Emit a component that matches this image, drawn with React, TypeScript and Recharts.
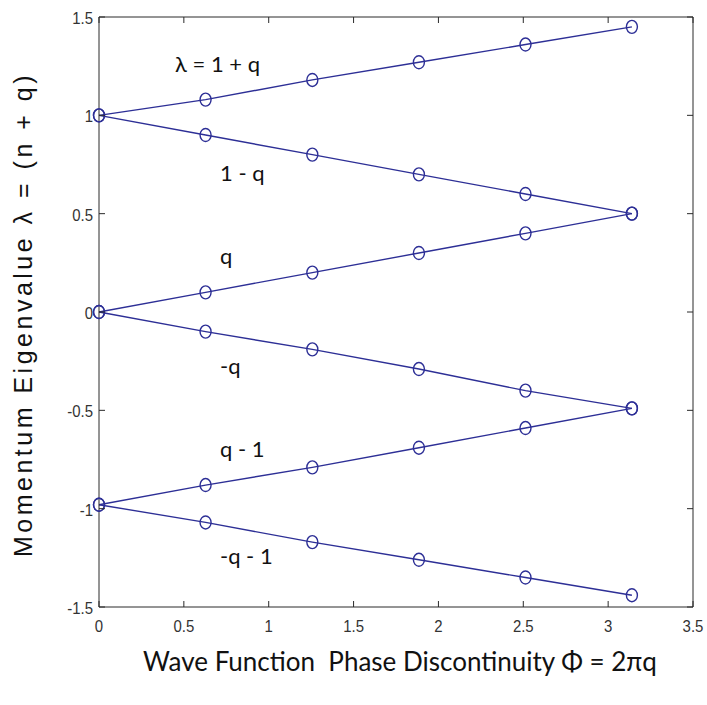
import React from 'react';
import { LineChart, Line, XAxis, YAxis } from 'recharts';

// phase values (x) – 2πq for q = 0 .. 0.5
const phi = [0, 0.628, 1.257, 1.885, 2.513, 3.14];

// momentum eigenvalue branches
const onePlusQ = [1.0, 1.08, 1.18, 1.27, 1.36, 1.45];
const oneMinusQ = [1.0, 0.9, 0.8, 0.7, 0.6, 0.5];
const plusQ = [0.0, 0.1, 0.2, 0.3, 0.4, 0.5];
const minusQ = [0.0, -0.1, -0.19, -0.29, -0.4, -0.49];
const qMinusOne = [-0.98, -0.88, -0.79, -0.69, -0.59, -0.49];
const minusQMinusOne = [-0.98, -1.07, -1.17, -1.26, -1.35, -1.44];

const xTicks = [0, 0.5, 1, 1.5, 2, 2.5, 3, 3.5];
const yTicks = [-1.5, -1, -0.5, 0, 0.5, 1, 1.5];

const series = [
  { key: 'a', values: onePlusQ },
  { key: 'b', values: oneMinusQ },
  { key: 'c', values: plusQ },
  { key: 'd', values: minusQ },
  { key: 'e', values: qMinusOne },
  { key: 'f', values: minusQMinusOne },
];

const data = phi.map((x, i) => {
  const row: any = { x };
  series.forEach((s) => { row[s.key] = s.values[i]; });
  return row;
});

const BLUE = '#2d2f96';
const AXIS = '#2a2a2a';
const TICK_FONT = "'Liberation Sans', Arial, sans-serif";

const Ring = (props: any) => {
  const { cx, cy } = props;
  if (cx == null || cy == null) return null;
  return <ellipse cx={cx} cy={cy} rx={5.5} ry={6.5} fill="none" stroke={BLUE} strokeWidth={1.4} />;
};

const fmt = (v: number) => String(v);

// narrow-ish tick numbers like the MATLAB export
const TickText = ({ x, y, anchor, value }: any) => (
  <text transform={`translate(${x},${y}) scale(0.88,1)`} textAnchor={anchor} fontSize={17} fill="#333" fontFamily={TICK_FONT}>
    {fmt(value)}
  </text>
);

const BottomTick = ({ x, y, payload }: any) => (
  <g>
    <line x1={x} x2={x} y1={y} y2={y - 6} stroke={AXIS} strokeWidth={1} />
    <TickText x={x} y={y + 25} anchor="middle" value={payload.value} />
  </g>
);
const TopTick = ({ x, y }: any) => (
  <line x1={x} x2={x} y1={y} y2={y + 6} stroke={AXIS} strokeWidth={1} />
);
const LeftTick = ({ x, y, payload }: any) => (
  <g>
    <line x1={x} x2={x + 6} y1={y} y2={y} stroke={AXIS} strokeWidth={1} />
    <TickText x={x - 6} y={y + 7} anchor="end" value={payload.value} />
  </g>
);
const RightTick = ({ x, y }: any) => (
  <line x1={x} x2={x - 6} y1={y} y2={y} stroke={AXIS} strokeWidth={1} />
);

const ANNOT_FONT = "Lato, 'Open Sans', sans-serif";

const notes = [
  { text: 'λ = 1 + q', left: 175, top: 51 },
  { text: '1 - q', left: 220, top: 160 },
  { text: 'q', left: 220, top: 243 },
  { text: '-q', left: 220, top: 353 },
  { text: 'q - 1', left: 220, top: 436 },
  { text: '-q - 1', left: 220, top: 543 },
];

export default function App() {
  return (
    <div style={{ position: 'absolute', left: 0, top: 0, width: 707, height: 705, background: '#fff' }}>
      <LineChart width={707} height={705} data={data} margin={{ top: 16, right: 13, left: 0, bottom: 68 }}>
        <XAxis dataKey="x" type="number" domain={[0, 3.5]} ticks={xTicks} height={30}
          axisLine={{ stroke: AXIS }} tickLine={false} tickSize={0} tickMargin={0} tick={<BottomTick />} interval={0} />
        <XAxis xAxisId="top" orientation="top" dataKey="x" type="number" domain={[0, 3.5]} ticks={xTicks} height={1}
          axisLine={{ stroke: AXIS }} tickLine={false} tickSize={0} tickMargin={0} tick={<TopTick />} interval={0} />
        <YAxis type="number" domain={[-1.5, 1.5]} ticks={yTicks} width={99}
          axisLine={{ stroke: AXIS }} tickLine={false} tickSize={0} tickMargin={0} tick={<LeftTick />} interval={0} />
        <YAxis yAxisId="right" orientation="right" type="number" domain={[-1.5, 1.5]} ticks={yTicks} width={1}
          axisLine={{ stroke: AXIS }} tickLine={false} tickSize={0} tickMargin={0} tick={<RightTick />} interval={0} />
        {/* invisible series so the top / right frame axes get drawn */}
        <Line xAxisId="top" yAxisId="right" dataKey="a" stroke="none" dot={false} activeDot={false}
          isAnimationActive={false} legendType="none" />
        {series.map((s) => (
          <Line key={s.key} dataKey={s.key} type="linear" stroke={BLUE} strokeWidth={1.4}
            dot={<Ring />} activeDot={false} isAnimationActive={false} />
        ))}
      </LineChart>
      {notes.map((n) => (
        <div key={n.text} style={{ position: 'absolute', left: n.left, top: n.top, fontFamily: ANNOT_FONT, fontSize: 22, color: '#111', whiteSpace: 'pre', lineHeight: '26px' }}>
          {n.text}
        </div>
      ))}
      <div style={{ position: 'absolute', left: 0, width: 800, top: 646, textAlign: 'center', fontFamily: ANNOT_FONT, fontSize: 26, color: '#111', whiteSpace: 'pre', lineHeight: '30px' }}>
        {'Wave Function  Phase Discontinuity Φ = 2πq'}
      </div>
      <div style={{ position: 'absolute', left: 23, top: 315, width: 0, height: 0 }}>
        <div style={{ position: 'absolute', left: -300, top: -13, width: 600, textAlign: 'center', transform: 'rotate(-90deg)', fontFamily: "'Liberation Sans', Arial, sans-serif", fontSize: 25, letterSpacing: 3.5, color: '#111', whiteSpace: 'pre', lineHeight: '25px' }}>
          {'Momentum Eigenvalue λ = (n + q)'}
        </div>
      </div>
    </div>
  );
}
